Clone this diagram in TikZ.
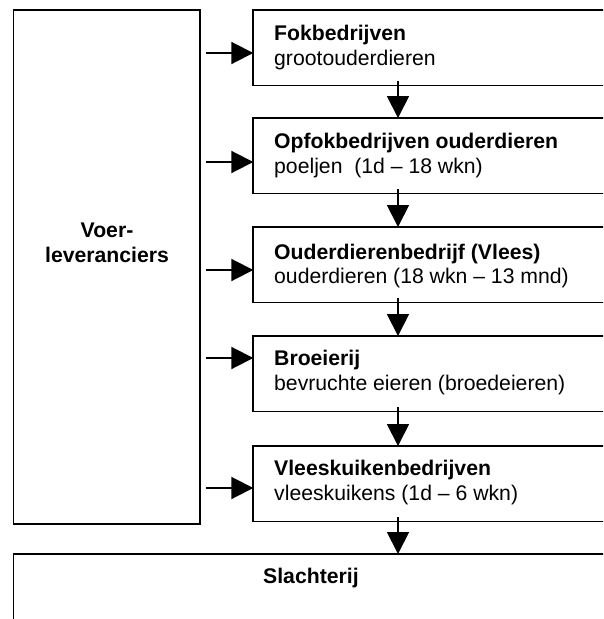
\documentclass[tikz,border=0pt]{standalone}
\usepackage{fontspec}
\setmainfont{Liberation Sans}
\usetikzlibrary{arrows.meta,calc}
\tikzset{
  frame/.style={draw=black, line width=1.9pt, rectangle, inner sep=0pt, outer sep=0pt, anchor=north west},
  stage/.style={frame, minimum width=380pt, minimum height=75.5pt},
  title/.style={anchor=base west, inner sep=0pt, font=\fontsize{21.2}{24}\selectfont\bfseries},
  sub/.style={anchor=base west, inner sep=0pt, font=\fontsize{21.2}{24}\selectfont},
  arr/.style={line width=1.9pt, -{Triangle[length=22pt,width=22pt]}}
}
\begin{document}
\begin{tikzpicture}[x=1pt,y=-1pt]
\clip (0,0) rectangle (603,619);
% supplier block on the left
\node[frame, minimum width=186.5pt, minimum height=514pt] (vl) at (13.5,10) {};
\node[title, anchor=base] (vlt1) at (107,237) {Voer-};
\node[title, anchor=base] (vlt2) at (107,262) {leveranciers};
% chain of production stages
\node[stage] (b1) at (253.3,10) {};
\node[stage] (b2) at (253.3,118) {};
\node[stage] (b3) at (253.3,227) {};
\node[stage] (b4) at (253.3,336) {};
\node[stage] (b5) at (253.3,446) {};
\node[frame, minimum width=640pt, minimum height=120pt] (sl) at (13.5,554) {};
\node[title] (t1) at (274,40) {Fokbedrijven};
\node[sub] (s1) at (274,65) {grootouderdieren};
\node[title] (t2) at (274,148.5) {Opfokbedrijven ouderdieren};
\node[sub] (s2) at (274,173.5) {poeljen\ \ (1d – 18 wkn)};
\node[title] (t3) at (274,259) {Ouderdierenbedrijf (Vlees)};
\node[sub] (s3) at (274,283.5) {ouderdieren (18 wkn – 13 mnd)};
\node[title] (t4) at (274,365) {Broeierij};
\node[sub] (s4) at (274,390.5) {bevruchte eieren (broedeieren)};
\node[title] (t5) at (274,475) {Vleeskuikenbedrijven};
\node[sub] (s5) at (274,500) {vleeskuikens (1d – 6 wkn)};
\node[title] (tsl) at (263,583) {Slachterij};
% feed deliveries
\coordinate (a1) at (253.3,53);
\coordinate (a2) at (253.3,162);
\coordinate (a3) at (253.3,270);
\coordinate (a4) at (253.3,358);
\coordinate (a5) at (253.3,488);
\foreach \a in {a1,a2,a3,a4,a5}
  \draw[arr] ($(vl.east |- \a)+(5.5,0)$) -- (\a);
% flow between stages
\coordinate (vx) at (398,0);
\draw[arr] ($(b1.south -| vx)+(0,-5)$) -- (b2.north -| vx);
\draw[arr] ($(b2.south -| vx)+(0,-5)$) -- (b3.north -| vx);
\draw[arr] ($(b3.south -| vx)+(0,-5)$) -- (b4.north -| vx);
\draw[arr] ($(b4.south -| vx)+(0,-5)$) -- (b5.north -| vx);
\draw[arr] ($(b5.south -| vx)+(0,-5)$) -- (sl.north -| vx);
\end{tikzpicture}
\end{document}
